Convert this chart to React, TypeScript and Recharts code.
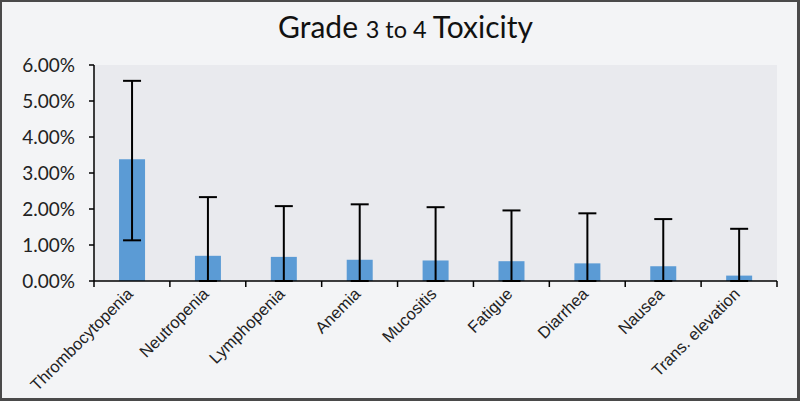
import React from "react";
import { BarChart, Bar, XAxis, YAxis, CartesianGrid, ErrorBar } from "recharts";

const categories = [
  "Thrombocytopenia",
  "Neutropenia",
  "Lymphopenia",
  "Anemia",
  "Mucositis",
  "Fatigue",
  "Diarrhea",
  "Nausea",
  "Trans. elevation",
];
const rates = [3.38, 0.7, 0.67, 0.59, 0.57, 0.55, 0.49, 0.41, 0.15];
const upperErr = [2.18, 1.63, 1.41, 1.54, 1.48, 1.41, 1.39, 1.31, 1.3];
const lowerErr = [2.25, 0.7, 0.67, 0.59, 0.57, 0.55, 0.49, 0.41, 0.15];
const yTicks = [0, 1, 2, 3, 4, 5, 6];

const data = categories.map((name, i) => ({
  name,
  rate: rates[i],
  err: [lowerErr[i], upperErr[i]],
}));

const W = 795;
const H = 396;
const M = { top: 63, right: 20, bottom: 0, left: 0 };
const Y_W = 92;
const BAND = (W - Y_W - M.right) / categories.length;

const XTick = (props: any) => {
  const { x, y, payload, index } = props;
  const left = x - BAND / 2;
  const tx = x + 2;
  const ty = y + 14;
  return (
    <g>
      <line x1={left} y1={y} x2={left} y2={y + 6} stroke="#000" strokeWidth={1.5} />
      {index === categories.length - 1 && (
        <line x1={x + BAND / 2} y1={y} x2={x + BAND / 2} y2={y + 6} stroke="#000" strokeWidth={1.5} />
      )}
      <text
        x={tx}
        y={ty}
        transform={`rotate(-45, ${tx}, ${ty})`}
        textAnchor="end"
        fontFamily="Liberation Sans, Arial, sans-serif"
        fontSize={16.5}
        fill="#222"
      >
        {payload.value}
      </text>
    </g>
  );
};

export default function App() {
  return (
    <div
      style={{
        position: "fixed",
        left: 0,
        top: 0,
        width: 800,
        height: 401,
        boxSizing: "border-box",
        background: "#f3f4f6",
        borderStyle: "solid",
        borderColor: "#4a4a4a",
        borderWidth: "2px 3px 3px 2px",
      }}
    >
      <div
        style={{
          position: "absolute",
          left: 0,
          width: W,
          top: 6,
          textAlign: "center",
          fontFamily: "Lato, sans-serif",
          color: "#111",
          paddingLeft: 12,
          boxSizing: "border-box",
        }}
      >
        <span style={{ fontSize: 30 }}>Grade </span>
        <span style={{ fontSize: 23.5 }}>3 to 4 </span>
        <span style={{ fontSize: 30 }}>Toxicity</span>
      </div>
      <BarChart width={W} height={H} data={data} margin={M} barCategoryGap="33%">
        <CartesianGrid fill="#e9eaee" horizontal={false} vertical={false} />
        <XAxis
          dataKey="name"
          interval={0}
          tickLine={false}
          tickSize={0}
          tickMargin={0}
          height={117}
          axisLine={{ stroke: "#000", strokeWidth: 1.5 }}
          tick={<XTick />}
        />
        <YAxis
          width={Y_W}
          domain={[0, 6]}
          ticks={yTicks}
          interval={0}
          tickFormatter={(v: number) => `${v.toFixed(2)}%`}
          axisLine={{ stroke: "#000", strokeWidth: 1.5 }}
          tickLine={{ stroke: "#000", strokeWidth: 1.5 }}
          tickSize={5}
          tickMargin={14}
          tick={{ fontFamily: "Lato, sans-serif", fontSize: 19, fill: "#222" }}
        />
        <Bar dataKey="rate" fill="#5b9bd5" isAnimationActive={false}>
          <ErrorBar dataKey="err" width={9} stroke="#000" strokeWidth={2} />
        </Bar>
      </BarChart>
    </div>
  );
}
